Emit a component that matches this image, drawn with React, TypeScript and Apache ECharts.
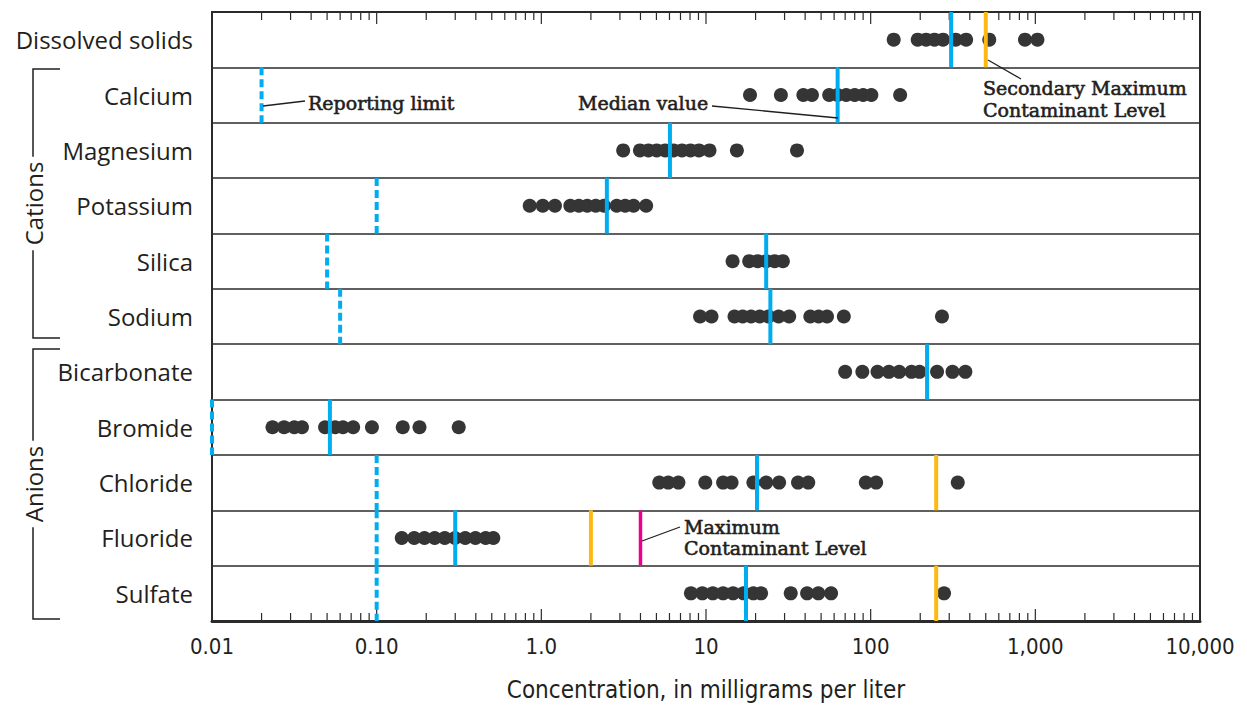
import React, { useEffect, useRef } from "react";
import * as echarts from "echarts";

// ---- categories (top to bottom) ----
const constituents = [
  "Dissolved solids",
  "Calcium",
  "Magnesium",
  "Potassium",
  "Silica",
  "Sodium",
  "Bicarbonate",
  "Bromide",
  "Chloride",
  "Fluoride",
  "Sulfate",
];

// ---- sample concentrations, mg/L ----
const dissolvedSolids = [138, 193, 217, 244, 275, 328, 380, 525, 865, 1030];
const calcium = [18.5, 28.5, 39, 44, 56, 63, 71, 80, 90, 101, 151];
const magnesium = [3.14, 3.97, 4.47, 5.02, 5.65, 6.35, 7.15, 8.05, 9.06, 10.5, 15.4, 35.7];
const potassium = [0.85, 1.02, 1.21, 1.5, 1.69, 1.9, 2.14, 2.4, 2.87, 3.23, 3.63, 4.33];
const silica = [14.5, 18.3, 20.6, 23.2, 26.1, 29.3];
const sodium = [9.2, 10.8, 14.9, 16.7, 18.8, 21.2, 23.9, 27.6, 32, 43, 48.3, 54.3, 68.7, 271];
const bicarbonate = [70, 89, 110, 129, 149, 177, 198, 253, 314, 376];
const bromide = [0.0233, 0.0274, 0.0316, 0.0352, 0.0486, 0.056, 0.0624, 0.072, 0.0936, 0.144, 0.182, 0.315];
const chloride = [5.2, 5.9, 6.8, 9.9, 12.7, 14.3, 19.4, 23.2, 27.8, 36.2, 41.8, 93.4, 108, 338];
const fluoride = [0.142, 0.169, 0.195, 0.225, 0.259, 0.299, 0.345, 0.398, 0.459, 0.511];
const sulfate = [8.1, 9.5, 11.0, 12.7, 14.6, 16.9, 19.4, 21.6, 32.7, 41.1, 48.1, 57.5, 279];

const samples = [
  dissolvedSolids, calcium, magnesium, potassium, silica, sodium,
  bicarbonate, bromide, chloride, fluoride, sulfate,
];

// ---- reference levels (null = none) ----
const medianValues = [308, 63, 6.04, 2.5, 23.2, 24.6, 220, 0.052, 20.4, 0.3, 17.5];
const reportingLimits = [null, 0.02, null, 0.1, 0.05, 0.06, null, 0.01, 0.1, 0.1, 0.1];
const secondaryMCL = [500, null, null, null, null, null, null, null, 250, 2, 250];
const maximumCL = [null, null, null, null, null, null, null, null, null, 4, null];

// ---- axis ----
const tickLabels = ["0.01", "0.10", "1.0", "10", "100", "1,000", "10,000"];
const decadeStarts = [0.01, 0.1, 1, 10, 100, 1000];
const axisEnd = 10000;
const minorMultipliers = [2, 3, 4, 5, 6, 7, 8, 9];

const COLORS = {
  ink: "#231f20",
  dot: "#353535",
  median: "#00aeef",
  smcl: "#fdb913",
  mcl: "#ec008c",
};

const SERIF = "'DejaVu Serif', 'Liberation Serif', serif";
const SANS = "'Open Sans', 'Noto Sans', sans-serif";
const NARROW = "'Liberation Sans Narrow', 'DejaVu Sans Condensed', sans-serif";

function buildOption() {
  const dots: any[] = [];
  samples.forEach((arr, row) => arr.forEach((v) => dots.push([v, row])));

  const levelLines: any[] = [];
  medianValues.forEach((v, row) => v != null && levelLines.push([v, row, 0]));
  reportingLimits.forEach((v, row) => v != null && levelLines.push([v, row, 1]));
  secondaryMCL.forEach((v, row) => v != null && levelLines.push([v, row, 2]));
  maximumCL.forEach((v, row) => v != null && levelLines.push([v, row, 3]));

  const ticks: any[] = [];
  decadeStarts.forEach((d) => {
    ticks.push([d, 0, 1]);
    minorMultipliers.forEach((m) => ticks.push([d * m, 0, 0]));
  });
  ticks.push([axisEnd, 0, 1]);

  const labelFor = (v: number) => {
    const e = Math.round(Math.log10(v));
    return tickLabels[e + 2] ?? "";
  };

  const leader = (x1: number, y1: number, x2: number, y2: number) => ({
    type: "line",
    shape: { x1, y1, x2, y2 },
    style: { stroke: COLORS.ink, lineWidth: 1.3 },
    z: 20,
  });
  const note = (x: number, y: number, text: string) => ({
    type: "text",
    x,
    y,
    style: {
      text,
      fill: COLORS.ink,
      font: `19px ${SERIF}`,
      verticalAlign: "middle",
      align: "left",
      stroke: COLORS.ink,
      lineWidth: 0.6,
    },
    z: 20,
  });
  const bracket = (top: number, bottom: number, label: string) => {
    const cy = (top + bottom) / 2;
    return [
      {
        type: "polyline",
        shape: { points: [[60, top], [33, top], [33, bottom], [60, bottom]] },
        style: { stroke: COLORS.ink, lineWidth: 1.5, fill: "none" },
        z: 10,
      },
      {
        type: "text",
        x: 33,
        y: cy,
        rotation: Math.PI / 2,
        style: {
          text: label,
          fill: COLORS.ink,
          font: `24px ${SANS}`,
          align: "center",
          verticalAlign: "middle",
          backgroundColor: "#fff",
          padding: [0, 5],
        },
        z: 11,
      },
    ];
  };

  return {
    animation: false,
    backgroundColor: "#fff",
    grid: {
      left: 212,
      right: 47,
      top: 12,
      bottom: 89,
      show: true,
      borderColor: "#2b2b2b",
      borderWidth: 2,
      backgroundColor: "transparent",
    },
    xAxis: {
      type: "log",
      logBase: 10,
      min: 0.01,
      max: 10000,
      axisLine: { show: true, lineStyle: { color: "#2b2b2b", width: 3 } },
      axisTick: { show: false },
      splitLine: { show: false },
      axisLabel: {
        formatter: labelFor,
        fontFamily: NARROW,
        fontSize: 22,
        color: COLORS.ink,
        margin: 14,
        showMinLabel: true,
        showMaxLabel: true,
      },
      name: "Concentration, in milligrams per liter",
      nameLocation: "middle",
      nameGap: 57,
      nameTextStyle: { fontFamily: NARROW, fontSize: 24, color: COLORS.ink },
    },
    yAxis: {
      type: "category",
      inverse: true,
      data: constituents,
      axisLine: { show: false },
      axisTick: { show: false },
      splitLine: { show: true, interval: 0, lineStyle: { color: "#2b2b2b", width: 1.5 } },
      axisLabel: {
        fontFamily: SANS,
        fontSize: 24,
        color: COLORS.ink,
        margin: 19,
        interval: 0,
        padding: [5, 0, 0, 0],
      },
    },
    series: [
      {
        type: "custom",
        name: "ticks",
        data: ticks,
        encode: { x: 0, y: 1 },
        clip: false,
        z: 1,
        renderItem: (params: any, api: any) => {
          const cs = params.coordSys;
          const x = api.coord([api.value(0), 0])[0];
          const len = api.value(2) ? 12 : 8;
          const st = { stroke: "#2b2b2b", lineWidth: 1.2 };
          return {
            type: "group",
            children: [
              { type: "line", shape: { x1: x, y1: cs.y, x2: x, y2: cs.y + len }, style: st },
              {
                type: "line",
                shape: { x1: x, y1: cs.y + cs.height, x2: x, y2: cs.y + cs.height - len },
                style: st,
              },
            ],
          };
        },
      },
      {
        type: "scatter",
        name: "samples",
        data: dots,
        symbol: "circle",
        symbolSize: 14,
        itemStyle: { color: COLORS.dot, opacity: 1 },
        z: 3,
      },
      {
        type: "custom",
        name: "levels",
        data: levelLines,
        encode: { x: 0, y: 1 },
        clip: false,
        z: 5,
        renderItem: (params: any, api: any) => {
          const cs = params.coordSys;
          const band = cs.height / constituents.length;
          const p = api.coord([api.value(0), api.value(1)]);
          const kind = api.value(2);
          const color = kind === 2 ? COLORS.smcl : kind === 3 ? COLORS.mcl : COLORS.median;
          const width = kind === 3 ? 3.5 : 4;
          return {
            type: "line",
            shape: { x1: p[0], y1: p[1] - band / 2, x2: p[0], y2: p[1] + band / 2 },
            style: {
              stroke: color,
              lineWidth: width,
              lineDash: kind === 1 ? [8, 4] : null,
            },
          };
        },
      },
    ],
    graphic: [
      ...bracket(69, 338, "Cations"),
      ...bracket(349, 619, "Anions"),
      leader(263, 106, 305, 101),
      note(308, 103, "Reporting limit"),
      leader(712, 106, 838, 118),
      note(578, 103, "Median value"),
      leader(988, 60, 1021, 79),
      note(983, 88, "Secondary Maximum"),
      note(983, 110, "Contaminant Level"),
      leader(642, 541, 680, 527),
      note(684, 527, "Maximum"),
      note(684, 548, "Contaminant Level"),
    ],
  };
}

export default function App() {
  const ref = useRef<HTMLDivElement>(null);
  useEffect(() => {
    if (!ref.current) return;
    const chart = echarts.init(ref.current, null, { renderer: "svg" });
    chart.setOption(buildOption() as any);
    return () => chart.dispose();
  }, []);
  return (
    <div
      ref={ref}
      style={{ position: "fixed", left: 0, top: 0, width: 1247, height: 710, background: "#fff" }}
    />
  );
}
